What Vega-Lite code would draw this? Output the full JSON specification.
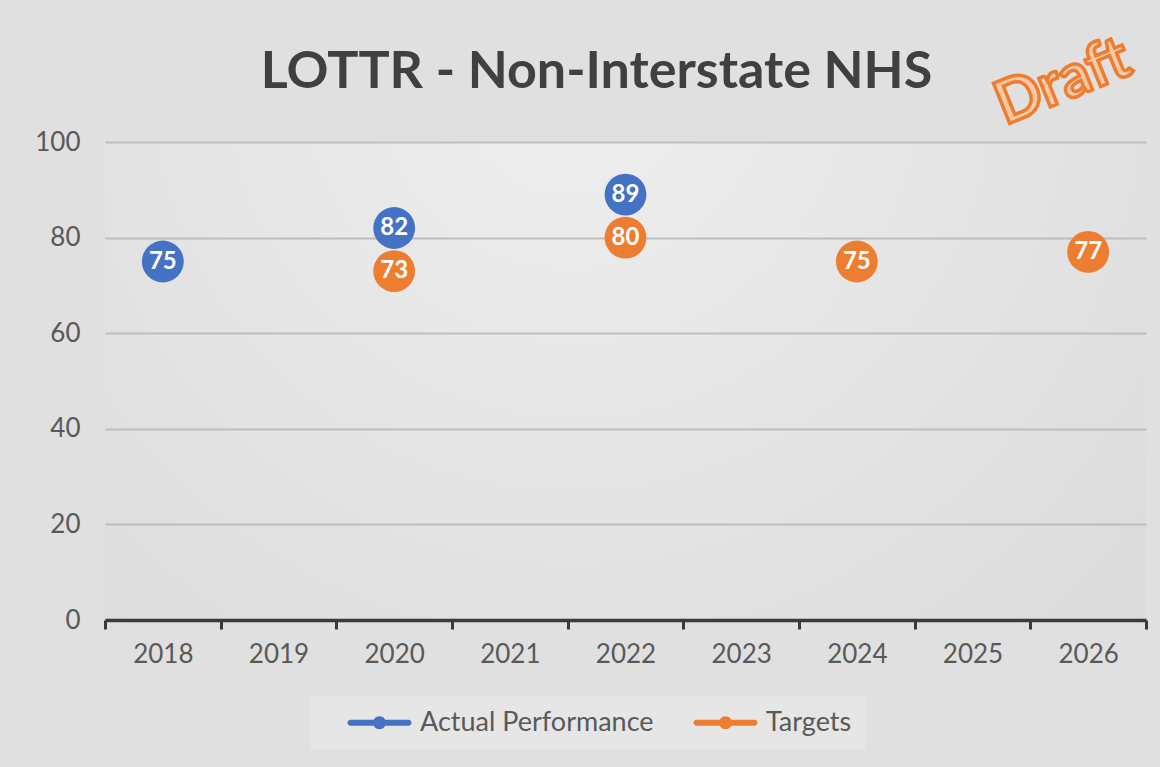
{
  "$schema": "https://vega.github.io/schema/vega-lite/v6.json",
  "autosize": {"type": "none"},
  "width": 1041,
  "height": 478,
  "padding": {"left": 105, "top": 142, "right": 14, "bottom": 147},
  "background": "#e0e0e0",
  "title": {
    "text": "LOTTR - Non-Interstate NHS",
    "font": "Lato",
    "fontSize": 52,
    "fontWeight": "bold",
    "color": "#404040",
    "anchor": "middle",
    "frame": "group",
    "baseline": "alphabetic",
    "offset": -112,
    "dx": -29
  },
  "config": {
    "view": {
      "stroke": null,
      "fill": {
        "gradient": "radial",
        "x1": 0.45, "y1": 0.2, "r1": 0,
        "x2": 0.45, "y2": 0.2, "r2": 0.95,
        "stops": [
          {"offset": 0, "color": "#efefef"},
          {"offset": 1, "color": "#d6d6d6"}
        ]
      }
    },
    "font": "Lato"
  },
  "datasets": {
    "points": [
      {"year": "2018", "series": "Actual Performance", "value": 75},
      {"year": "2020", "series": "Actual Performance", "value": 82},
      {"year": "2022", "series": "Actual Performance", "value": 89},
      {"year": "2020", "series": "Targets", "value": 73},
      {"year": "2022", "series": "Targets", "value": 80},
      {"year": "2024", "series": "Targets", "value": 75},
      {"year": "2026", "series": "Targets", "value": 77}
    ],
    "stamp": [{"year": "2026", "value": 114.6, "label": "Draft"}]
  },
  "encoding": {
    "x": {
      "field": "year",
      "type": "nominal",
      "scale": {
        "type": "band",
        "domain": ["2018", "2019", "2020", "2021", "2022", "2023", "2024", "2025", "2026"],
        "paddingInner": 0,
        "paddingOuter": 0
      },
      "axis": {
        "title": null,
        "labelAngle": 0,
        "labelFont": "Lato",
        "labelFontSize": 26,
        "labelColor": "#595959",
        "labelPadding": 12,
        "domainColor": "#3a3a3a",
        "domainWidth": 3.5,
        "tickColor": "#3a3a3a",
        "tickWidth": 3,
        "tickSize": 9,
        "tickBand": "extent",
        "grid": false
      }
    },
    "y": {
      "field": "value",
      "type": "quantitative",
      "scale": {"domain": [0, 100], "nice": false},
      "axis": {
        "title": null,
        "values": [0, 20, 40, 60, 80, 100],
        "labelFont": "Lato",
        "labelFontSize": 26,
        "labelColor": "#595959",
        "labelPadding": 25,
        "domain": false,
        "ticks": false,
        "grid": true,
        "gridColor": "#bdbdbd",
        "gridWidth": 2
      }
    }
  },
  "layer": [
    {
      "data": {"name": "points"},
      "mark": {"type": "circle", "size": 1750, "opacity": 1},
      "encoding": {
        "color": {
          "field": "series",
          "type": "nominal",
          "scale": {"domain": ["Actual Performance", "Targets"], "range": ["#4472c4", "#ed7d31"]},
          "legend": {
            "title": null,
            "orient": "none",
            "direction": "horizontal",
            "legendX": 206,
            "legendY": 554,
            "fillColor": "#e6e6e6",
            "strokeColor": null,
            "padding": 13,
            "symbolType": "M -2.9 -0.3 L 2.9 -0.3 A 0.3 0.3 0 0 1 2.9 0.3 L -2.9 0.3 A 0.3 0.3 0 0 1 -2.9 -0.3 Z M -0.65 0 A 0.65 0.65 0 1 1 0.65 0 A 0.65 0.65 0 1 1 -0.65 0 Z",
            "symbolSize": 400,
            "symbolStrokeWidth": 0,
            "symbolOpacity": 1,
            "symbolOffset": 42,
            "labelOffset": 27,
            "labelLimit": 400,
            "labelFont": "Lato",
            "labelFontSize": 27,
            "labelColor": "#595959",
            "columnPadding": 16
          }
        }
      }
    },
    {
      "data": {"name": "points"},
      "mark": {"type": "text", "font": "Lato", "fontWeight": "bold", "fontSize": 24, "color": "#ffffff", "baseline": "middle", "align": "center"},
      "encoding": {
        "text": {"field": "value", "type": "quantitative"}
      }
    },
    {
      "data": {"name": "stamp"},
      "mark": {
        "type": "text",
        "font": "Lato",
        "fontWeight": "bold",
        "fontSize": 60,
        "angle": -22,
        "fill": "#f8c9a4",
        "stroke": "#ed7d31",
        "strokeWidth": 3.5,
        "baseline": "middle",
        "align": "center",
        "dx": -27
      },
      "encoding": {
        "text": {"field": "label", "type": "nominal"}
      }
    }
  ]
}
